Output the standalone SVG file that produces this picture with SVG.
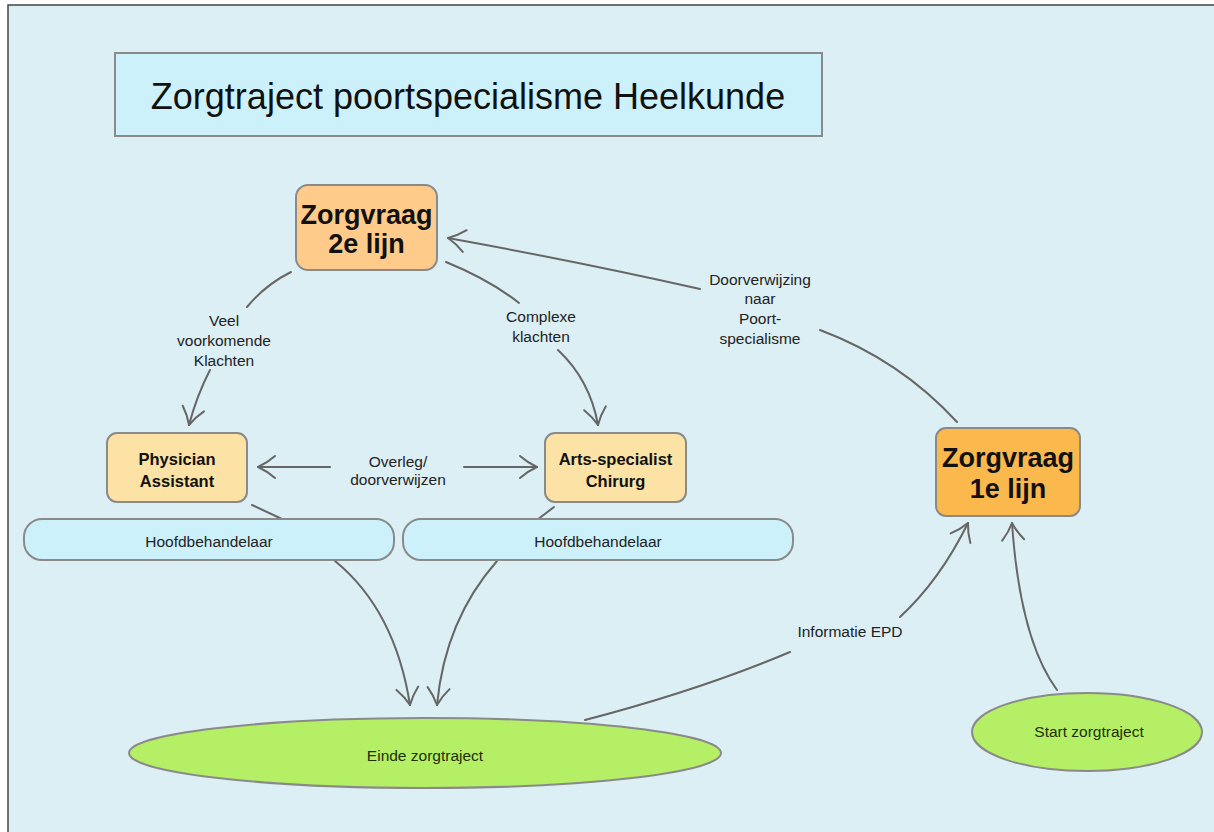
<svg xmlns="http://www.w3.org/2000/svg" width="1214" height="832" viewBox="0 0 1214 832">
<style>
text{font-family:"Liberation Sans",Arial,sans-serif;fill:#111;text-anchor:middle}
.box{stroke:#8a8a8a;stroke-width:2}
.big{font-size:27px;font-weight:bold}
.mid{font-size:16.5px;font-weight:bold}
.lbl{font-size:15.5px;fill:#222}
.grn{fill:#1E3008}
.con{fill:none;stroke:#666;stroke-width:2;stroke-linecap:round}
</style>
<defs>
<marker id="ah" markerUnits="userSpaceOnUse" markerWidth="28" markerHeight="28" refX="21" refY="14" orient="auto">
<path d="M4,3 Q12,10 21,14 Q12,18 4,25" fill="none" stroke="#666" stroke-width="2" stroke-linecap="round" stroke-linejoin="round"/>
</marker>
</defs>
<rect x="0" y="0" width="1214" height="832" fill="#fff"/>
<rect x="8" y="5" width="1210" height="830" fill="#DCEFF4" stroke="#444" stroke-width="1.5"/>

<g id="title">
<rect class="box" x="115" y="53" width="707" height="83" fill="#CCF1FB"/>
<text x="468" y="109" style="font-size:36px">Zorgtraject poortspecialisme Heelkunde</text>
</g>

<g id="connectors">
<path class="con" d="M291,272 Q265,285 247,307"/>
<path class="con" d="M210,370 Q197,395 189,425" marker-end="url(#ah)"/>
<path class="con" d="M446,262 Q490,280 519,303"/>
<path class="con" d="M558,350 Q590,380 598,425" marker-end="url(#ah)"/>
<path class="con" d="M330,467 L258,467" marker-end="url(#ah)"/>
<path class="con" d="M464,467 L537,467" marker-end="url(#ah)"/>
<path class="con" d="M252,505 L282,519"/>
<path class="con" d="M335,561 Q395,610 410,705" marker-end="url(#ah)"/>
<path class="con" d="M554,507 L537,520"/>
<path class="con" d="M497,561 Q445,620 437,705" marker-end="url(#ah)"/>
<path class="con" d="M585,720 Q700,690 790,652"/>
<path class="con" d="M900,617 Q940,580 968,523" marker-end="url(#ah)"/>
<path class="con" d="M1057,690 Q1020,640 1012,523" marker-end="url(#ah)"/>
<path class="con" d="M957,422 Q900,360 820,330"/>
<path class="con" d="M700,289 Q580,262 448,238" marker-end="url(#ah)"/>
<text class="lbl" x="224" y="326">Veel</text>
<text class="lbl" x="224" y="346">voorkomende</text>
<text class="lbl" x="224" y="366">Klachten</text>
<text class="lbl" x="541" y="322">Complexe</text>
<text class="lbl" x="541" y="342">klachten</text>
<text class="lbl" x="398" y="467">Overleg/</text>
<text class="lbl" x="398" y="485">doorverwijzen</text>
<text class="lbl" x="760" y="285">Doorverwijzing</text>
<text class="lbl" x="760" y="304">naar</text>
<text class="lbl" x="760" y="324">Poort-</text>
<text class="lbl" x="760" y="344">specialisme</text>
<text class="lbl" x="850" y="637">Informatie EPD</text>
</g>

<g id="zorgvraag2">
<rect class="box" x="296" y="185" width="141" height="85" rx="12" fill="#FECB8A"/>
<text class="big" x="366.5" y="224">Zorgvraag</text>
<text class="big" x="366.5" y="253">2e lijn</text>
</g>

<g id="physician">
<rect class="box" x="107" y="433" width="140" height="69" rx="10" fill="#FCE2A4"/>
<text class="mid" x="177" y="465">Physician</text>
<text class="mid" x="177" y="487">Assistant</text>
</g>

<g id="arts">
<rect class="box" x="545" y="433" width="141" height="69" rx="10" fill="#FCE2A4"/>
<text class="mid" x="615.5" y="465">Arts-specialist</text>
<text class="mid" x="615.5" y="487">Chirurg</text>
</g>

<g id="hoofd1">
<rect class="box" x="24" y="519" width="370" height="41" rx="18" fill="#CCF1FB"/>
<text class="lbl" x="209" y="547">Hoofdbehandelaar</text>
</g>

<g id="hoofd2">
<rect class="box" x="403" y="519" width="390" height="41" rx="18" fill="#CCF1FB"/>
<text class="lbl" x="598" y="547">Hoofdbehandelaar</text>
</g>

<g id="zorgvraag1">
<rect class="box" x="936" y="428" width="144" height="88" rx="10" fill="#FBB84C"/>
<text class="big" x="1008" y="467">Zorgvraag</text>
<text class="big" x="1008" y="498">1e lijn</text>
</g>

<g id="einde">
<ellipse class="box" cx="425" cy="753" rx="296" ry="35" fill="#B5EF66"/>
<text class="lbl grn" x="425" y="761">Einde zorgtraject</text>
</g>

<g id="start">
<ellipse class="box" cx="1087" cy="732" rx="115" ry="39" fill="#B5EF66"/>
<text class="lbl grn" x="1089" y="737">Start zorgtraject</text>
</g>
</svg>
